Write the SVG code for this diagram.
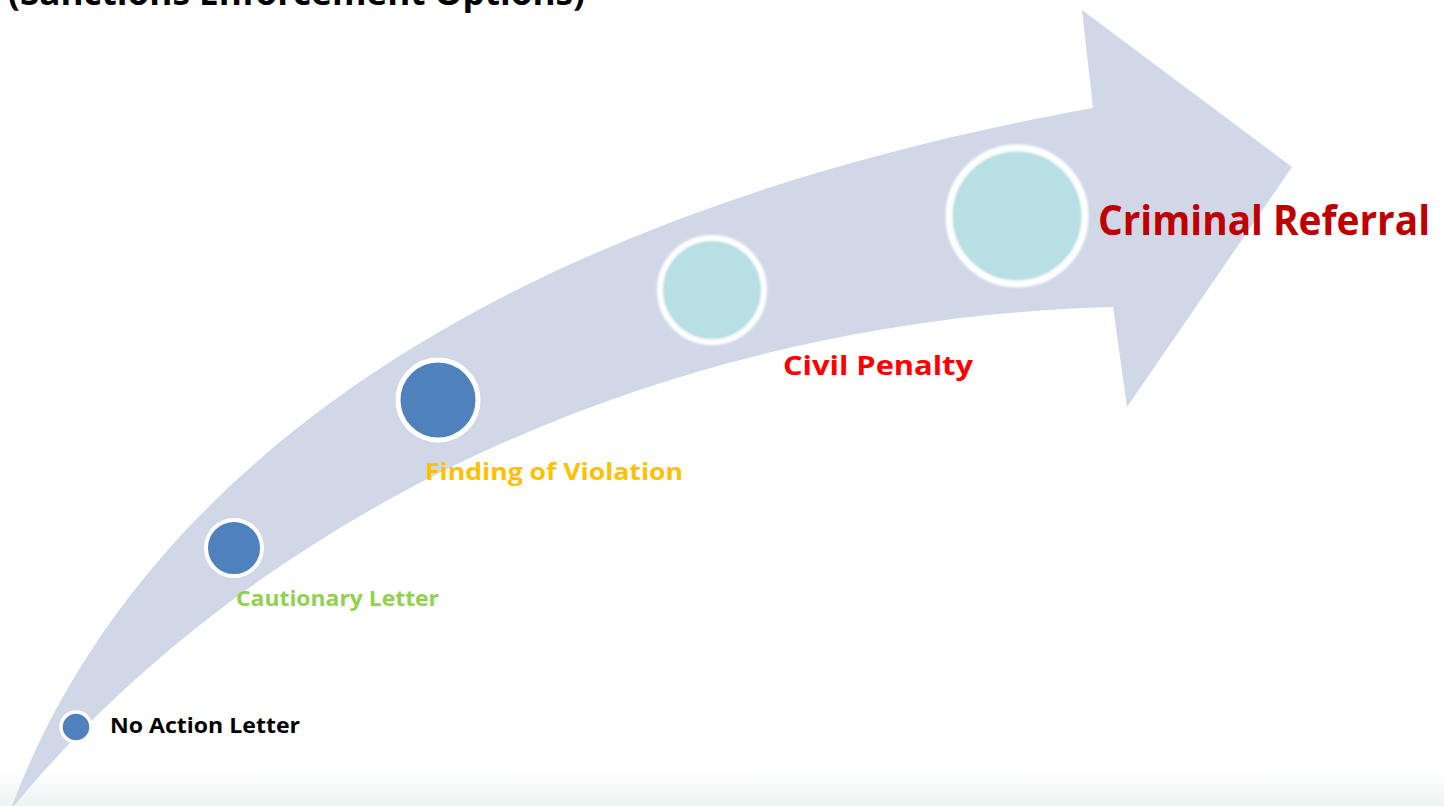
<svg xmlns="http://www.w3.org/2000/svg" width="1444" height="806" viewBox="0 0 1444 806">
  <defs>
    <linearGradient id="floorFade" x1="0" y1="0" x2="0" y2="1">
      <stop offset="0" stop-color="#ffffff"/>
      <stop offset="1" stop-color="#eaf5f3"/>
    </linearGradient>
    <filter id="softRing" x="-20%" y="-20%" width="140%" height="140%">
      <feGaussianBlur stdDeviation="0.8"/>
    </filter>
    <style>
      .label { font-family: "Open Sans", "Liberation Sans", sans-serif; font-weight: bold; }
      .dot-blue { fill: #4f81bd; stroke: #ffffff; }
      .dot-teal { fill: #b8dfe3; stroke: #ffffff; }
      .band { fill: #d0d8e8; }
    </style>
  </defs>

  <rect width="1444" height="806" fill="#ffffff"/>
  <rect x="0" y="770" width="1444" height="36" fill="url(#floorFade)"/>

  <!-- heading, mostly above the top edge -->
  <text class="label" x="8" y="5" font-size="34" fill="#000000" textLength="577" lengthAdjust="spacingAndGlyphs">(Sanctions Enforcement Options)</text>

  <!-- rising curved arrow -->
  <g id="arrow">
    <path class="band" d="M 12,806 C 120,520 420,230 1093,108 L 1082,10 L 1292,167 L 1127,407 L 1113,307 C 650,320 250,520 14,806 Z"/>
  </g>

  <g id="no-action">
    <circle class="dot-blue" cx="76" cy="727" r="15" stroke-width="3.5"/>
    <text class="label" x="110" y="733" font-size="21" fill="#000000" textLength="190" lengthAdjust="spacingAndGlyphs">No Action Letter</text>
  </g>

  <g id="cautionary">
    <circle class="dot-blue" cx="234" cy="548" r="28" stroke-width="4"/>
    <text class="label" x="236" y="606" font-size="22" fill="#92d050" textLength="203" lengthAdjust="spacingAndGlyphs">Cautionary Letter</text>
  </g>

  <g id="finding">
    <circle class="dot-blue" cx="438" cy="400" r="40" stroke-width="5"/>
    <text class="label" x="425" y="480" font-size="23" fill="#ffc000" textLength="258" lengthAdjust="spacingAndGlyphs">Finding of Violation</text>
  </g>

  <g id="civil">
    <circle class="dot-teal" cx="712" cy="290" r="52" stroke-width="6" filter="url(#softRing)"/>
    <text class="label" x="783" y="375" font-size="27" fill="#ff0000" textLength="190" lengthAdjust="spacingAndGlyphs">Civil Penalty</text>
  </g>

  <g id="criminal">
    <circle class="dot-teal" cx="1017" cy="216" r="68" stroke-width="7" filter="url(#softRing)"/>
    <text class="label" x="1098" y="235" font-size="41" fill="#c00000" textLength="332" lengthAdjust="spacingAndGlyphs">Criminal Referral</text>
  </g>
</svg>
